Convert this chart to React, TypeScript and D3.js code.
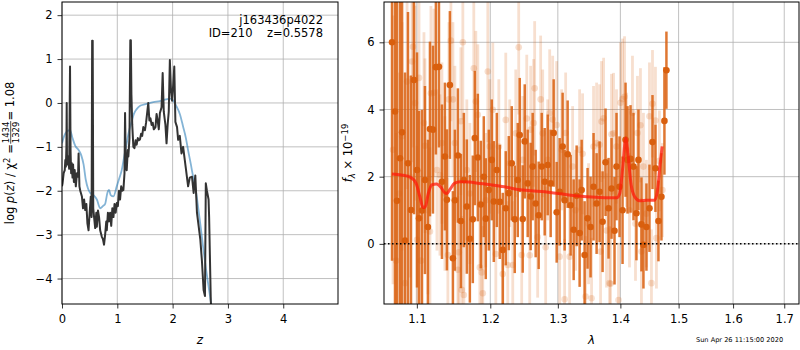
import React, { useEffect, useRef } from 'react';
import * as d3 from 'd3';

const FONT = 'DejaVu Sans, sans-serif';
const ORANGE = '#d95f0e';

// ---- redshift panel: log p(z) and its fit
const pzZ = [
  0.00, 0.01, 0.03, 0.05, 0.06, 0.07, 0.08, 0.085, 0.09, 0.10,
  0.11, 0.13, 0.145, 0.155, 0.165, 0.175, 0.19, 0.20, 0.215, 0.23,
  0.25, 0.27, 0.29, 0.30, 0.315, 0.33, 0.36, 0.38, 0.40, 0.42,
  0.44, 0.46, 0.48, 0.50, 0.52, 0.535, 0.545, 0.555, 0.565, 0.58,
  0.60, 0.62, 0.63, 0.65, 0.67, 0.69, 0.72, 0.74, 0.76, 0.78,
  0.80, 0.81, 0.83, 0.85, 0.87, 0.89, 0.91, 0.93, 0.95, 0.97,
  0.99, 1.01, 1.03, 1.05, 1.07, 1.09, 1.11, 1.13, 1.14, 1.155,
  1.17, 1.19, 1.20, 1.22, 1.235, 1.245, 1.255, 1.27, 1.29, 1.31,
  1.33, 1.35, 1.37, 1.39, 1.41, 1.43, 1.45, 1.47, 1.50, 1.52,
  1.56, 1.58, 1.60, 1.62, 1.64, 1.66, 1.69, 1.71, 1.73, 1.75,
  1.77, 1.80, 1.82, 1.84, 1.87, 1.89, 1.91, 1.93, 1.95, 1.97,
  1.99, 2.01, 2.03, 2.05, 2.08, 2.10, 2.13, 2.16, 2.19, 2.22,
  2.25, 2.28, 2.31, 2.35, 2.38, 2.41, 2.44, 2.47, 2.50, 2.53,
  2.56, 2.585, 2.60, 2.62, 2.65, 2.66, 2.69, 2.71
];
const pzLog = [
  -1.9, -1.83, -1.6, -1.53, -1.3, -1.45, -1.0, 0.0, -1.2, -1.4,
  -1.22, -1.5, 0.83, -1.1, -1.6, -1.37, -1.7, -1.4, -1.8, -1.53,
  -1.9, -1.6, -1.68, -1.15, -1.9, -2.0, -2.13, -2.4, -2.2, -2.44,
  -2.3, -2.75, -2.9, -2.5, -2.13, -2.6, 1.42, 1.42, -2.4, -2.6,
  -2.85, -2.5, -2.82, -2.45, -2.6, -2.9, -3.05, -3.1, -3.23, -3.0,
  -2.7, -2.9, -2.5, -2.7, -2.5, -2.8, -2.4, -2.6, -2.3, -2.5,
  -2.28, -2.35, -2.0, -2.2, -1.9, -2.0, -1.98, -1.6, -0.23, -1.5,
  -1.53, -1.07, -1.22, -0.8, 1.43, 1.43, 0.2, -0.5, -1.0, -1.03,
  -0.85, -0.95, -0.8, -0.85, -0.83, -0.7, -0.75, -0.55, -0.62, -0.45,
  0.0, -0.4, -0.35, -0.5, -0.45, -0.6, -0.55, -0.25, -0.4, -0.6,
  -0.23, -0.1, 0.68, -0.2, -0.5, -0.92, -0.5, -0.2, 0.98, 0.3,
  0.05, 0.4, 0.83, -0.43, -0.55, -0.84, -0.75, -1.15, -1.0, -1.3,
  -1.6, -1.9, -1.7, -1.68, -2.05, -1.65, -2.5, -2.8, -3.1, -3.6,
  -4.26, -4.4, -1.83, -2.0, -2.2, -2.6, -4.5, -5.0
];
const fitZ = [
  0.00, 0.04, 0.08, 0.145, 0.19, 0.24, 0.30, 0.35, 0.39, 0.43,
  0.47, 0.51, 0.57, 0.63, 0.69, 0.74, 0.78, 0.82, 0.85, 0.88,
  0.93, 0.99, 1.04, 1.08, 1.12, 1.17, 1.21, 1.26, 1.30, 1.35,
  1.42, 1.53, 1.65, 1.77, 1.88, 1.95, 2.01, 2.07, 2.13, 2.19,
  2.24, 2.28, 2.33, 2.37, 2.42, 2.46, 2.51, 2.55, 2.60, 2.65,
  2.70, 2.75
];
const fitLog = [
  -0.92, -0.75, -0.66, -0.62, -0.8, -0.98, -1.07, -1.2, -1.4, -1.75,
  -1.95, -2.05, -2.1, -2.2, -2.4, -2.35, -2.3, -2.05, -1.98, -2.1,
  -2.13, -1.9, -1.7, -1.53, -1.25, -0.92, -0.65, -0.42, -0.25, -0.14,
  -0.06, -0.02, 0.02, 0.04, 0.08, 0.1, 0.06, -0.08, -0.25, -0.54,
  -0.8, -1.08, -1.4, -1.68, -2.0, -2.36, -2.85, -3.27, -3.75, -4.18,
  -4.6, -5.0
];
const zTicks = [0, 1, 2, 3, 4];
const logTicks = [-4, -3, -2, -1, 0, 1, 2];

const objName = 'j163436p4022';
const objId = 210;
const objZ = 0.5578;
const chiNum = 1434;
const chiDen = 1329;
const chiVal = 1.08;
const stamp = 'Sun Apr 26 11:15:00 2020';

// ---- spectrum panel
const darkWave = [
  1.0681, 1.0719, 1.0744, 1.0783, 1.0809, 1.0847, 1.0885, 1.0924, 1.0963, 1.1002,
  1.1028, 1.1067, 1.1106, 1.1145, 1.1172, 1.1212, 1.1251, 1.1292, 1.1332, 1.1372,
  1.1399, 1.1439, 1.1480, 1.1507, 1.1548, 1.1589, 1.1630, 1.1671, 1.1713, 1.1754,
  1.1782, 1.1824, 1.1866, 1.1908, 1.1936, 1.1979, 1.2021, 1.2050, 1.2093, 1.2136,
  1.2179, 1.2222, 1.2266, 1.2309, 1.2353, 1.2397, 1.2426, 1.2470, 1.2500, 1.2544,
  1.2588, 1.2618, 1.2663, 1.2708, 1.2754, 1.2799, 1.2845, 1.2890, 1.2936, 1.2982,
  1.3028, 1.3074, 1.3105, 1.3152, 1.3199, 1.3246, 1.3293, 1.3340, 1.3372, 1.3419,
  1.3466, 1.3514, 1.3562, 1.3611, 1.3659, 1.3708, 1.3756, 1.3805, 1.3854, 1.3903,
  1.3936, 1.3986, 1.4036, 1.4086, 1.4119, 1.4169, 1.4219, 1.4269, 1.4303, 1.4354,
  1.4388, 1.4439, 1.4491, 1.4543, 1.4594, 1.4646, 1.4698, 1.4750, 1.4785
];
const darkFlux = [
  6.0, 3.94, 1.28, 2.55, 3.32, 0.1, 2.4, 1.01, 4.88, 2.2,
  0.76, 0.99, 1.9, 0.5, 3.42, 3.4, 5.26, 5.27, 1.85, 2.6,
  1.31, 4.73, -0.43, 1.3, 2.63, 0.68, 1.9, 1.11, 0.15, 0.73,
  3.15, 2.57, 1.17, 2.0, 0.75, 1.6, 2.5, 1.26, 2.2, 1.25,
  -0.18, 1.06, 1.51, 2.4, 0.73, 1.9, 3.24, 0.74, 3.05, 1.8,
  1.41, 2.3, 1.2, 0.85, 2.3, 1.85, 2.35, 1.8, 3.3, 0.94,
  1.55, 2.9, 1.3, 2.67, 1.15, 0.42, 1.43, 0.32, 1.6, -0.33,
  0.76, 0.5, 1.7, 1.2, 1.55, 0.66, 2.43, 1.06, 1.65, 0.39,
  2.3, 1.7, 1.0, 3.1, 2.5, 2.53, 2.3, 0.91, 2.5, 0.58,
  -0.03, 0.5, 1.06, 3.03, 2.25, 0.68, 1.4, 3.66, 5.17
];
const darkErr = [
  6.5, 6.5, 6, 6, 5.5, 5, 4.5, 4, 4, 3.5,
  3.2, 3, 2.8, 2.6, 2.6, 2.5, 2.6, 2.4, 2.3, 2.2,
  2.1, 2.2, 2.0, 2.1, 2.0, 2.0, 2.0, 2.0, 1.9, 1.9,
  2.0, 1.9, 1.9, 1.8, 1.8, 1.8, 1.8, 1.8, 1.7, 1.7,
  1.7, 1.7, 1.7, 1.7, 1.6, 1.7, 1.7, 1.6, 1.7, 1.6,
  1.6, 1.6, 1.6, 1.6, 1.6, 1.6, 1.5, 1.6, 1.6, 1.5,
  1.6, 1.6, 1.5, 1.6, 1.5, 1.5, 1.5, 1.6, 1.5, 1.6,
  1.5, 1.5, 1.6, 1.5, 1.5, 1.5, 1.6, 1.5, 1.5, 1.6,
  1.6, 1.5, 1.6, 1.7, 1.6, 1.6, 1.6, 1.4, 1.5, 1.4,
  1.3, 1.3, 1.3, 1.4, 1.3, 1.2, 1.3, 1.6, 1.15
];

const lightWave = [
  1.0694, 1.0732, 1.0770, 1.0809, 1.0847, 1.0873, 1.0911, 1.0937, 1.0950, 1.0976,
  1.1002, 1.1028, 1.1054, 1.1093, 1.1106, 1.1145, 1.1172, 1.1185, 1.1225, 1.1265,
  1.1305, 1.1332, 1.1372, 1.1412, 1.1426, 1.1453, 1.1480, 1.1507, 1.1548, 1.1561,
  1.1589, 1.1602, 1.1616, 1.1630, 1.1671, 1.1713, 1.1768, 1.1796, 1.1824, 1.1852,
  1.1880, 1.1894, 1.1936, 1.1965, 1.1993, 1.2036, 1.2079, 1.2122, 1.2179, 1.2222,
  1.2251, 1.2280, 1.2324, 1.2368, 1.2411, 1.2455, 1.2470, 1.2530, 1.2574, 1.2588,
  1.2633, 1.2648, 1.2693, 1.2738, 1.2769, 1.2814, 1.2845, 1.2875, 1.2921, 1.2982,
  1.3028, 1.3059, 1.3105, 1.3121, 1.3183, 1.3230, 1.3277, 1.3340, 1.3387, 1.3435,
  1.3482, 1.3530, 1.3562, 1.3611, 1.3659, 1.3675, 1.3691, 1.3724, 1.3772, 1.3821,
  1.3838, 1.3854, 1.3887, 1.3936, 1.3969, 1.4003, 1.4036, 1.4069, 1.4102, 1.4152,
  1.4202, 1.4253, 1.4286, 1.4337, 1.4354, 1.4388, 1.4439, 1.4491, 1.4525, 1.4543,
  1.4594, 1.4611, 1.4663, 1.4715
];
const lightFlux = [
  2.8, -0.5, 1.5, 3.2, -1.17, 4.83, 2.0, 5.43, 5.87, 4.19,
  0.12, 4.94, -0.5, 3.6, 2.92, 1.0, 0.37, 4.48, 4.5, 2.2,
  2.05, 3.0, 1.5, -0.33, 4.3, 6.05, 4.3, 3.0, -0.77, -0.25,
  3.65, -1.37, 6.0, -1.52, 2.2, 1.5, 5.23, 4.24, 3.84, -0.7,
  -0.85, -1.47, 1.3, 5.13, 2.9, 3.99, -0.3, 2.9, -0.9, 3.69,
  -0.63, 2.4, -0.63, 3.29, 5.85, -0.33, 2.5, 3.73, -0.34, 3.4,
  3.6, 4.63, 0.2, 4.3, 3.29, -0.1, 2.5, 3.89, 3.7, 3.54,
  -0.38, 2.8, -1.65, 3.3, -0.38, 2.3, 1.0, 2.8, 2.68, -1.57,
  0.6, -1.62, 2.9, 3.0, 2.95, -0.23, 3.64, 3.74, 0.4, -1.17,
  -1.19, 3.26, 3.29, 2.9, -1.67, 4.2, 4.31, 4.38, 2.8, 1.0,
  3.9, 0.6, 3.3, 3.53, -0.23, 2.3, 0.9, 3.8, -1.17, 4.17,
  3.67, 0.17, 2.47, 1.6
];
const lightErr = [
  4.0, 3.8, 3.6, 3.4, 3.2, 3.2, 3.0, 3.0, 3.0, 2.9,
  2.8, 2.8, 2.7, 2.7, 2.6, 2.5, 2.5, 2.6, 2.5, 2.4,
  2.4, 2.4, 2.3, 2.3, 2.3, 2.4, 2.3, 2.3, 2.2, 2.2,
  2.2, 2.2, 2.3, 2.2, 2.1, 2.1, 2.2, 2.1, 2.1, 2.0,
  2.0, 2.0, 2.0, 2.1, 2.0, 2.0, 2.0, 2.0, 1.9, 2.0,
  1.9, 1.9, 1.9, 1.9, 2.0, 1.9, 1.9, 1.9, 1.9, 1.9,
  1.9, 2.0, 1.8, 1.9, 1.9, 1.8, 1.8, 1.9, 1.9, 1.9,
  1.8, 1.8, 1.8, 1.8, 1.8, 1.8, 1.8, 1.8, 1.8, 1.8,
  1.8, 1.8, 1.8, 1.8, 1.8, 1.8, 1.8, 1.8, 1.7, 1.7,
  1.7, 1.8, 1.8, 1.7, 1.7, 1.8, 1.8, 1.8, 1.7, 1.7,
  1.7, 1.7, 1.7, 1.7, 1.6, 1.6, 1.6, 1.6, 1.6, 1.6,
  1.6, 1.5, 1.5, 1.4
];

const modelWave = [
  1.068, 1.080, 1.092, 1.099, 1.104, 1.108, 1.111, 1.115, 1.120, 1.126,
  1.132, 1.137, 1.140, 1.144, 1.150, 1.158, 1.170, 1.185, 1.200, 1.220,
  1.240, 1.260, 1.280, 1.300, 1.320, 1.340, 1.360, 1.380, 1.394, 1.399,
  1.404, 1.409, 1.413, 1.418, 1.424, 1.432, 1.445, 1.458, 1.463, 1.467,
  1.471
];
const modelFlux = [
  2.08, 2.05, 1.98, 1.8, 1.4, 1.08, 1.1, 1.5, 1.76, 1.78,
  1.68, 1.52, 1.5, 1.62, 1.8, 1.85, 1.84, 1.8, 1.76, 1.7,
  1.62, 1.58, 1.55, 1.5, 1.45, 1.41, 1.39, 1.37, 1.37, 1.5,
  2.3, 3.15, 2.6, 1.75, 1.4, 1.28, 1.3, 1.3, 1.6, 2.3,
  2.9
];
const waveTicks = [1.1, 1.2, 1.3, 1.4, 1.5, 1.6, 1.7];
const fluxTicks = [0, 2, 4, 6];

function drawChart(node: SVGSVGElement) {
  const svg = d3.select(node);
  svg.selectAll('*').remove();
  svg.append('rect').attr('width', 800).attr('height', 350).attr('fill', '#fff');

  // panel boxes
  const L = { x0: 62, x1: 338, y0: 2, y1: 304 };
  const R = { x0: 384, x1: 799, y0: 2, y1: 304 };

  const xL = d3.scaleLinear().domain([0, 4.99]).range([L.x0, L.x1]);
  const yL = d3.scaleLinear().domain([-4.58, 2.3]).range([L.y1, L.y0]);
  const xR = d3.scaleLog().domain([1.058, 1.73]).range([R.x0, R.x1]);
  const yR = d3.scaleLinear().domain([-1.79, 7.2]).range([R.y1, R.y0]);

  const defs = svg.append('defs');
  defs.append('clipPath').attr('id', 'clipL').append('rect')
    .attr('x', L.x0).attr('y', L.y0).attr('width', L.x1 - L.x0).attr('height', L.y1 - L.y0);
  defs.append('clipPath').attr('id', 'clipR').append('rect')
    .attr('x', R.x0).attr('y', R.y0).attr('width', R.x1 - R.x0).attr('height', R.y1 - R.y0);

  // grids
  const grid = (box: any, xs: any, ys: any, xt: number[], yt: number[]) => {
    const g = svg.append('g').attr('stroke', '#b0b0b0').attr('stroke-width', 0.8);
    g.selectAll('.gx').data(xt).join('line')
      .attr('x1', d => xs(d)).attr('x2', d => xs(d)).attr('y1', box.y0).attr('y2', box.y1);
    g.selectAll('.gy').data(yt).join('line')
      .attr('x1', box.x0).attr('x2', box.x1).attr('y1', d => ys(d)).attr('y2', d => ys(d));
  };
  grid(L, xL, yL, zTicks, logTicks);
  grid(R, xR, yR, waveTicks, fluxTicks);

  // ---- left: p(z)
  const gL = svg.append('g').attr('clip-path', 'url(#clipL)');
  const fitLine = d3.line<number>().x(d => xL(fitZ[d])).y(d => yL(fitLog[d])).curve(d3.curveMonotoneX);
  gL.append('path').attr('d', fitLine(d3.range(fitZ.length)))
    .attr('fill', 'none').attr('stroke', '#1f77b4').attr('stroke-opacity', 0.55).attr('stroke-width', 1.8);
  const pzLine = d3.line<number>().x(d => xL(pzZ[d])).y(d => yL(pzLog[d]));
  gL.append('path').attr('d', pzLine(d3.range(pzZ.length)))
    .attr('fill', 'none').attr('stroke', '#333').attr('stroke-width', 2).attr('stroke-linejoin', 'round');

  // ---- right: spectrum
  const gR = svg.append('g').attr('clip-path', 'url(#clipR)');
  const light = d3.zip(lightWave, lightFlux, lightErr);
  const dark = d3.zip(darkWave, darkFlux, darkErr);

  gR.append('g').selectAll('line').data(light).join('line')
    .attr('x1', d => xR(d[0])).attr('x2', d => xR(d[0]))
    .attr('y1', d => yR(d[1] - d[2])).attr('y2', d => yR(d[1] + d[2]))
    .attr('stroke', ORANGE).attr('stroke-opacity', 0.2).attr('stroke-width', 2.8);
  gR.append('g').selectAll('circle').data(light).join('circle')
    .attr('cx', d => xR(d[0])).attr('cy', d => yR(d[1])).attr('r', 3.3)
    .attr('fill', ORANGE).attr('fill-opacity', 0.2);

  gR.append('g').selectAll('line').data(dark).join('line')
    .attr('x1', d => xR(d[0])).attr('x2', d => xR(d[0]))
    .attr('y1', d => yR(d[1] - d[2])).attr('y2', d => yR(d[1] + d[2]))
    .attr('stroke', ORANGE).attr('stroke-opacity', 0.85).attr('stroke-width', 2.5);
  gR.append('g').selectAll('circle').data(dark).join('circle')
    .attr('cx', d => xR(d[0])).attr('cy', d => yR(d[1])).attr('r', 3.3)
    .attr('fill', ORANGE);

  const modelLine = d3.line<number>().x(d => xR(modelWave[d])).y(d => yR(modelFlux[d])).curve(d3.curveMonotoneX);
  gR.append('path').attr('d', modelLine(d3.range(modelWave.length)))
    .attr('fill', 'none').attr('stroke', '#ff1a0a').attr('stroke-opacity', 0.75).attr('stroke-width', 3);

  gR.append('line').attr('x1', R.x0).attr('x2', R.x1).attr('y1', yR(0)).attr('y2', yR(0))
    .attr('stroke', '#000').attr('stroke-width', 1.5).attr('stroke-dasharray', '1.5,2.5');

  // frames
  [L, R].forEach(b => {
    svg.append('rect').attr('x', b.x0).attr('y', b.y0).attr('width', b.x1 - b.x0).attr('height', b.y1 - b.y0)
      .attr('fill', 'none').attr('stroke', '#000').attr('stroke-width', 1);
  });

  // axes
  const styleAxis = (g: any) => {
    g.select('.domain').remove();
    g.attr('font-family', FONT).attr('font-size', 11.5);
    g.selectAll('line').attr('stroke', '#000').attr('stroke-width', 0.8);
    g.selectAll('text').attr('fill', '#000');
  };
  svg.append('g').attr('transform', `translate(0,${L.y1})`)
    .call(d3.axisBottom(xL).tickValues(zTicks).tickSize(4.5).tickPadding(6).tickFormat(d3.format('d')))
    .call(styleAxis);
  svg.append('g').attr('transform', `translate(${L.x0},0)`)
    .call(d3.axisLeft(yL).tickValues(logTicks).tickSize(4.5).tickPadding(5).tickFormat(d3.format('d')))
    .call(styleAxis);
  svg.append('g').attr('transform', `translate(0,${R.y1})`)
    .call(d3.axisBottom(xR).tickValues(waveTicks).tickSize(4.5).tickPadding(6).tickFormat(d3.format('.1f')))
    .call(styleAxis);
  svg.append('g').attr('transform', `translate(${R.x0},0)`)
    .call(d3.axisLeft(yR).tickValues(fluxTicks).tickSize(4.5).tickPadding(5).tickFormat(d3.format('d')))
    .call(styleAxis);

  // label inside p(z) panel
  const info = svg.append('g').attr('font-family', FONT).attr('font-size', 11.5).attr('text-anchor', 'end');
  info.append('text').attr('x', 323).attr('y', 24).text(objName);
  info.append('text').attr('x', 323).attr('y', 37).style('white-space', 'pre')
    .text(`ID=${objId}    z=${objZ}`);

  // x labels
  svg.append('text').attr('x', (L.x0 + L.x1) / 2).attr('y', 344).attr('text-anchor', 'middle')
    .attr('font-family', FONT).attr('font-size', 12).attr('font-style', 'italic').text('z');
  svg.append('text').attr('x', (R.x0 + R.x1) / 2).attr('y', 344).attr('text-anchor', 'middle')
    .attr('font-family', FONT).attr('font-size', 12).attr('font-style', 'italic').text('λ');

  // left y label with stacked fraction
  const gy = svg.append('g').attr('transform', `translate(14,${(L.y0 + L.y1) / 2}) rotate(-90)`)
    .attr('font-family', FONT).attr('font-size', 11.5).style('white-space', 'pre');
  const tA = gy.append('text');
  tA.append('tspan').text('log ');
  tA.append('tspan').attr('font-style', 'italic').text('p');
  tA.append('tspan').text('(');
  tA.append('tspan').attr('font-style', 'italic').text('z');
  tA.append('tspan').text(') / χ');
  tA.append('tspan').attr('font-size', 8.5).attr('dy', -4.5).text('2');
  tA.append('tspan').attr('dy', 4.5).text(' = ');
  const num = gy.append('text').attr('font-size', 8.5).attr('text-anchor', 'middle').attr('y', -4.8).text(String(chiNum));
  const den = gy.append('text').attr('font-size', 8.5).attr('text-anchor', 'middle').attr('y', 4.6).text(String(chiDen));
  const tB = gy.append('text').text(` = ${chiVal.toFixed(2)}`);
  const wA = (tA.node() as SVGTextElement).getComputedTextLength();
  const wF = Math.max((num.node() as SVGTextElement).getComputedTextLength(),
    (den.node() as SVGTextElement).getComputedTextLength()) + 2;
  const wB = (tB.node() as SVGTextElement).getComputedTextLength();
  const x0 = -(wA + wF + wB) / 2;
  tA.attr('x', x0);
  num.attr('x', x0 + wA + wF / 2);
  den.attr('x', x0 + wA + wF / 2);
  gy.append('line').attr('x1', x0 + wA + 0.5).attr('x2', x0 + wA + wF - 0.5)
    .attr('y1', -3.3).attr('y2', -3.3).attr('stroke', '#000').attr('stroke-width', 0.7);
  tB.attr('x', x0 + wA + wF);

  // right y label
  const gy2 = svg.append('g').attr('transform', `translate(352,${(R.y0 + R.y1) / 2}) rotate(-90)`)
    .attr('font-family', FONT).attr('font-size', 11.5);
  const tR = gy2.append('text').attr('text-anchor', 'middle').style('white-space', 'pre');
  tR.append('tspan').attr('font-style', 'italic').text('f');
  tR.append('tspan').attr('font-size', 8.5).attr('font-style', 'italic').attr('dy', 3).text('λ');
  tR.append('tspan').attr('dy', -3).text(' × 10');
  tR.append('tspan').attr('font-size', 8.5).attr('dy', -4.5).text('−19');

  // timestamp
  svg.append('text').attr('x', 696).attr('y', 342).attr('font-family', FONT).attr('font-size', 6.6)
    .text(stamp);
}

export default function App() {
  const ref = useRef<SVGSVGElement>(null);
  useEffect(() => {
    if (ref.current) drawChart(ref.current);
  }, []);
  return (
    <svg ref={ref} width={800} height={350}
      style={{ position: 'absolute', left: 0, top: 0, display: 'block' }} />
  );
}
